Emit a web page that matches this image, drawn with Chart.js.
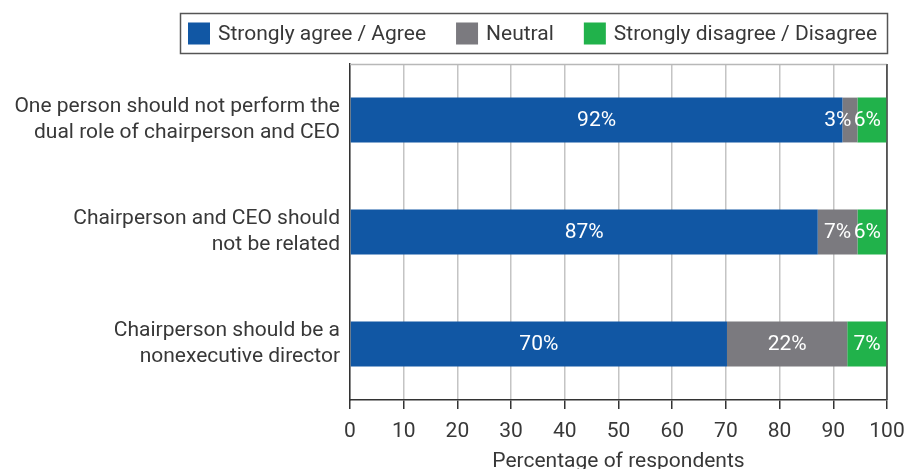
<!DOCTYPE html>
<html>
<head>
<meta charset="utf-8">
<script src="https://cdn.jsdelivr.net/npm/chart.js@4"></script>
<style>
html,body{margin:0;padding:0;background:#fff;}
#wrap{width:905px;height:469px;position:relative;}
</style>
</head>
<body>
<div id="wrap"><canvas id="c" width="905" height="469"></canvas></div>
<script>
const categories = [
  ["One person should not perform the", "dual role of chairperson and CEO"],
  ["Chairperson and CEO should", "not be related"],
  ["Chairperson should be a", "nonexecutive director"]
];
const seriesNames = ["Strongly agree / Agree", "Neutral", "Strongly disagree / Disagree"];
const agree = [91.7, 87.1, 70.2];
const neutral = [2.8, 7.4, 22.4];
const disagree = [5.5, 5.5, 7.4];
const xTicks = [0, 10, 20, 30, 40, 50, 60, 70, 80, 90, 100];
const colors = ["#1157a4", "#7b7a7f", "#21b24b"];

const FONT = "Roboto, 'DejaVu Sans', sans-serif";
const TEXT = "#383838";
const FS = 21;

const labelPlugin = {
  id: 'segLabels',
  afterDatasetsDraw(chart) {
    const ctx = chart.ctx;
    ctx.save();
    ctx.font = FS + "px " + FONT;
    ctx.fillStyle = "#ffffff";
    ctx.textBaseline = "middle";
    chart.data.datasets.forEach((ds, di) => {
      const meta = chart.getDatasetMeta(di);
      meta.data.forEach((bar, i) => {
        const v = ds.data[i];
        const txt = Math.round(v) + "%";
        const left = Math.min(bar.x, bar.base), right = Math.max(bar.x, bar.base);
        const w = ctx.measureText(txt).width;
        if (w + 4 > right - left) {
          ctx.textAlign = "right";
          ctx.fillText(txt, right - 6, bar.y + 1);
        } else {
          ctx.textAlign = "center";
          ctx.fillText(txt, (left + right) / 2, bar.y + 1);
        }
      });
    });
    ctx.restore();
  }
};

const framePlugin = {
  id: 'frame',
  beforeDatasetsDraw(chart) {
    const {ctx, chartArea} = chart;
    ctx.save();
    ctx.strokeStyle = "#b8b8b8";
    ctx.lineWidth = 1.5;
    ctx.beginPath();
    ctx.moveTo(chartArea.left, chartArea.top + 0.5);
    ctx.lineTo(chartArea.right, chartArea.top + 0.5);
    ctx.stroke();
    ctx.restore();
  },
  afterDatasetsDraw(chart) {
    const {ctx, chartArea} = chart;
    ctx.save();
    ctx.strokeStyle = "#555555";
    ctx.lineWidth = 1.5;
    ctx.beginPath();
    ctx.moveTo(chartArea.right, chartArea.top);
    ctx.lineTo(chartArea.right, chartArea.bottom);
    ctx.stroke();
    ctx.restore();
  }
};

const legendPlugin = {
  id: 'boxLegend',
  afterDraw(chart) {
    const ctx = chart.ctx;
    ctx.save();
    ctx.font = FS + "px " + FONT;
    const boxX = 180, boxY = 13, boxH = 40, right = 887;
    ctx.strokeStyle = "#555555";
    ctx.lineWidth = 1.5;
    ctx.strokeRect(boxX + 0.5, boxY + 0.5, right - boxX, boxH);
    const widths = chart.data.datasets.map(d => ctx.measureText(d.label).width);
    const sq = 22, gap = 8, itemGap = 30;
    let x = boxX + 8;
    const cy = boxY + boxH / 2 + 0.5;
    ctx.textBaseline = "middle";
    ctx.textAlign = "left";
    chart.data.datasets.forEach((d, i) => {
      ctx.fillStyle = d.backgroundColor;
      ctx.fillRect(x, cy - sq / 2, sq, sq);
      ctx.fillStyle = TEXT;
      ctx.fillText(d.label, x + sq + gap, cy + 1);
      x += sq + gap + widths[i] + itemGap;
    });
    ctx.restore();
  }
};

const datasetValues = [agree, neutral, disagree];
new Chart(document.getElementById('c'), {
  type: 'bar',
  data: {
    labels: categories,
    datasets: seriesNames.map((n, i) => ({
      label: n,
      data: datasetValues[i],
      backgroundColor: colors[i],
      borderWidth: 0,
      barPercentage: 0.8,
      categoryPercentage: 0.5
    }))
  },
  options: {
    indexAxis: 'y',
    responsive: false,
    animation: false,
    devicePixelRatio: 1,
    layout: { padding: { top: 64, right: 18, left: 0, bottom: 0 } },
    plugins: {
      legend: { display: false },
      tooltip: { enabled: false }
    },
    scales: {
      x: {
        stacked: true,
        min: 0, max: 100,
        afterBuildTicks(scale) { scale.ticks = xTicks.map(v => ({ value: v })); },
        afterFit(scale) { scale.height = 69; scale.paddingRight = 0; scale.paddingLeft = 0; },
        grid: {
          color: (c) => (c.tick && c.tick.value === 100) ? "#555555" : "#c4c4c4",
          lineWidth: 1.5,
          tickLength: 9,
          tickColor: "#333333",
          drawOnChartArea: true
        },
        border: { display: true, color: "#333333", width: 1.5 },
        ticks: { color: TEXT, font: { family: FONT, size: FS }, padding: 10, maxRotation: 0 },
        title: { display: true, text: "Percentage of respondents", color: TEXT, font: { family: FONT, size: FS, lineHeight: 1 }, padding: { top: 0, bottom: -3 } }
      },
      y: {
        stacked: true,
        afterFit(scale) { scale.width = 350; },
        grid: { display: false, drawTicks: false },
        border: { display: true, color: "#333333", width: 1.5 },
        ticks: { color: TEXT, font: { family: FONT, size: FS, lineHeight: 1.24 }, padding: 10 }
      }
    }
  },
  plugins: [framePlugin, labelPlugin, legendPlugin]
});
</script>
</body>
</html>
